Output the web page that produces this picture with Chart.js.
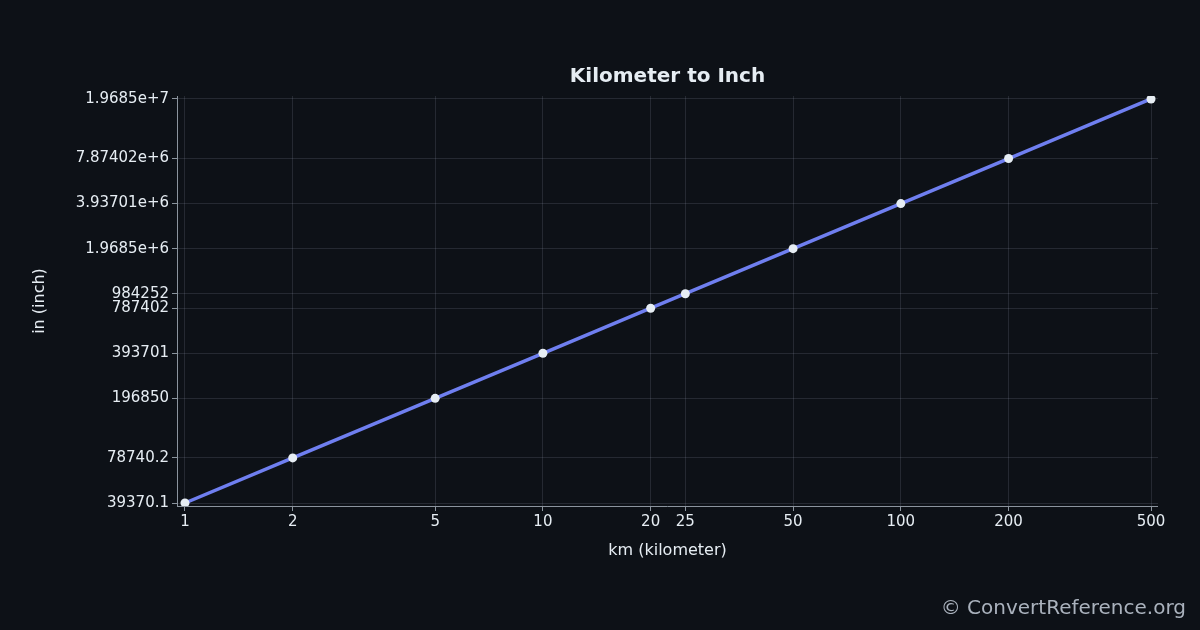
<!DOCTYPE html>
<html><head><meta charset="utf-8">
<script src="https://cdn.jsdelivr.net/npm/chart.js@4.4.0/dist/chart.umd.min.js"></script>
<style>html,body{margin:0;background:#0d1117;}#w{width:1200px;height:630px;}</style>
</head><body><div id="w"><canvas id="c"></canvas></div>
<script>
const kmValues = [1, 2, 5, 10, 20, 25, 50, 100, 200, 500];
const inchValues = [39370.1, 78740.2, 196850, 393701, 787402, 984252, 1968500, 3937010, 7874020, 19685000];
const yTickLabels = ["39370.1","78740.2","196850","393701","787402","984252","1.9685e+6","3.93701e+6","7.87402e+6","1.9685e+7"];
const xTickLabels = ["1","2","5","10","20","25","50","100","200","500"];
const titleText = "Kilometer to Inch";
const watermark = "© ConvertReference.org";
const txt = "#e6edf3", grid = "rgba(200,210,230,0.13)";
Chart.defaults.font.family = "DejaVu Sans";
const deco = {id:'deco', afterDraw(ch){const c=ch.ctx;c.save();c.fillStyle=txt;c.textAlign='center';c.textBaseline='middle';
 c.font='bold 20px DejaVu Sans';c.fillText(titleText,(ch.chartArea.left+ch.chartArea.right)/2,77);
 c.font='20px DejaVu Sans';c.fillStyle='#aab2bd';c.textAlign='right';c.fillText(watermark,1186,609);
 c.strokeStyle='#8b949e';c.lineWidth=1;c.beginPath();c.moveTo(177.5,ch.chartArea.top);c.lineTo(177.5,ch.chartArea.bottom);
 c.moveTo(ch.chartArea.left,506.5);c.lineTo(ch.chartArea.right,506.5);c.stroke();c.restore();}};
new Chart(document.getElementById('c'),{type:'line',
 data:{datasets:[{data:kmValues.map((x,i)=>({x,y:inchValues[i]})),borderColor:'#6f7ff0',borderWidth:3.5,
  pointBackgroundColor:'#e6edf3',pointBorderWidth:0,pointRadius:4.5,tension:0}]},
 options:{responsive:true,maintainAspectRatio:false,animation:false,
  layout:{padding:{left:30,top:96,right:42,bottom:70}},
  plugins:{legend:{display:false},tooltip:{enabled:false}},
  scales:{
   x:{type:'logarithmic',min:0.95,max:523,
    afterBuildTicks(s){s.ticks=kmValues.map(v=>({value:v}));},
    afterFit(s){s.height=54;},
    ticks:{color:txt,font:{size:15},autoSkip:false,maxRotation:0,padding:2,callback:(v,i)=>xTickLabels[i]},
    grid:{color:grid,tickColor:'#8b949e',tickLength:5},border:{display:false},
    title:{display:true,text:'km (kilometer)',color:txt,font:{size:16},padding:{top:2,bottom:0}}},
   y:{type:'logarithmic',min:37600,max:20600000,
    afterBuildTicks(s){s.ticks=inchValues.map(v=>({value:v}));},
    afterFit(s){s.width=147;},
    ticks:{color:txt,font:{size:15},autoSkip:false,padding:3,callback:(v,i)=>yTickLabels[i]},
    grid:{color:grid,tickColor:'#8b949e',tickLength:5},border:{display:false},
    title:{display:true,text:'in (inch)',color:txt,font:{size:16},padding:{top:0,bottom:4}}}}},
 plugins:[deco]});
</script></body></html>
